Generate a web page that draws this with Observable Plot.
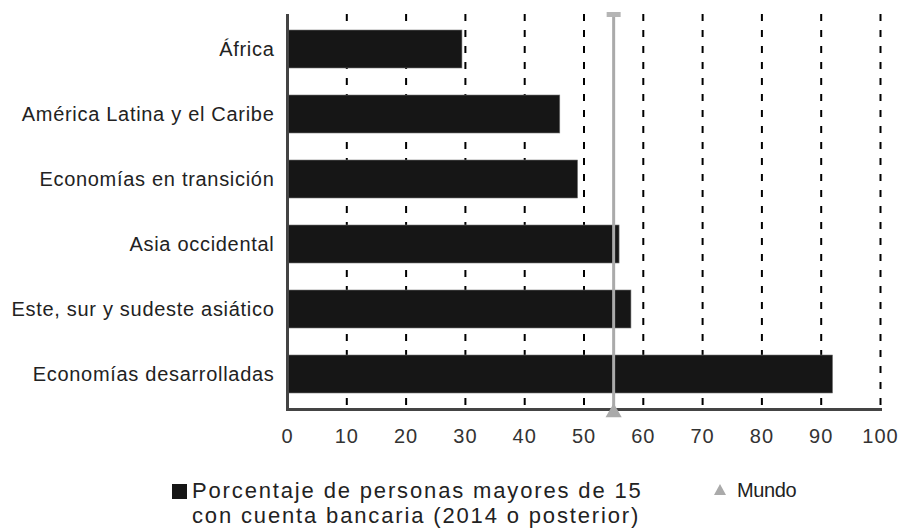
<!DOCTYPE html>
<html>
<head>
<meta charset="utf-8">
<script src="https://cdn.jsdelivr.net/npm/d3@7"></script>
<script src="https://cdn.jsdelivr.net/npm/@observablehq/plot@0.6"></script>
<style>
  body { margin: 0; background: #fff; font-family: "Liberation Sans", Arial, sans-serif; }
  #wrap { width: 903px; }
  #legend { position: relative; width: 903px; height: 68px; color: #222; }
  #legend .sq { position: absolute; left: 172px; top: 24px; width: 15px; height: 15px; background: #161616; }
  #legend .t1 { position: absolute; left: 192px; top: 18px; font-size: 22px; letter-spacing: 1.85px; line-height: 25px; white-space: nowrap; }
  #legend .tri { position: absolute; left: 714px; top: 24px; width: 0; height: 0;
     border-left: 6px solid transparent; border-right: 6px solid transparent; border-bottom: 11px solid #aaa; }
  #legend .t2 { position: absolute; left: 737px; top: 18px; font-size: 20px; letter-spacing: -0.4px; line-height: 25px; }
</style>
</head>
<body>
<div id="wrap"></div>
<script>
const regions = [
  "África",
  "América Latina y el Caribe",
  "Economías en transición",
  "Asia occidental",
  "Este, sur y sudeste asiático",
  "Economías desarrolladas"
];
const shares = [29.5, 46, 49, 56, 58, 92];
const mundo = 55;
const xTicks = [0, 10, 20, 30, 40, 50, 60, 70, 80, 90, 100];
const gridTicks = [10, 20, 30, 40, 50, 60, 70, 80, 90, 100];
const legendSeries = "Porcentaje de personas mayores de 15<br>con cuenta bancaria (2014 o posterior)";
const legendMundo = "Mundo";

const data = regions.map((r, i) => ({region: r, value: shares[i]}));

const capSymbol = {
  draw(context, size) {
    const w = 7, h = 2.5;
    context.moveTo(-w, -h); context.lineTo(w, -h); context.lineTo(w, h); context.lineTo(-w, h); context.closePath();
  }
};

const chart = Plot.plot({
  width: 903,
  height: 460,
  marginLeft: 287,
  marginRight: 23,
  marginTop: 14,
  marginBottom: 51,
  style: {fontFamily: "'Liberation Sans', Arial, sans-serif", color: "#222", background: "#fff"},
  x: {domain: [0, 100], label: null},
  y: {domain: regions, label: null, paddingInner: 0.42, paddingOuter: 0.21},
  marks: [
    Plot.ruleX(gridTicks, {x: d => d, stroke: "#000", strokeWidth: 2, strokeDasharray: "7,9"}),
    Plot.barX(data, {y: "region", x: "value", fill: "#161616", stroke: "#777", strokeWidth: 0.6}),
    Plot.ruleX([mundo], {x: d => d, stroke: "#aaa", strokeWidth: 3}),
    Plot.dot([mundo], {x: d => d, frameAnchor: "top", symbol: capSymbol, fill: "#b5b5b5", stroke: "none", r: 5}),
    Plot.ruleX([0], {x: d => d, stroke: "#444", strokeWidth: 3}),
    Plot.frame({anchor: "bottom", stroke: "#444", strokeWidth: 3}),
    Plot.dot([mundo], {x: d => d, frameAnchor: "bottom", symbol: "triangle", fill: "#aaa", stroke: "none", r: 6, dy: 3}),
    Plot.axisX({ticks: xTicks, tickSize: 0, tickPadding: 19, fontSize: 20, tickFormat: d => d, fill: "#333"}),
    Plot.axisY({tickSize: 0, tickPadding: 13, fontSize: 20, fill: "#222"})
  ]
});

chart.querySelectorAll("g[aria-label='y-axis tick label'] text").forEach(t => t.style.letterSpacing = "0.7px");
chart.querySelectorAll("g[aria-label='x-axis tick label'] text").forEach(t => t.style.letterSpacing = "1px");

document.getElementById("wrap").appendChild(chart);
const leg = document.createElement("div");
leg.id = "legend";
leg.innerHTML = `<div class="sq"></div><div class="t1">${legendSeries}</div><div class="tri"></div><div class="t2">${legendMundo}</div>`;
document.getElementById("wrap").appendChild(leg);
</script>
</body>
</html>
